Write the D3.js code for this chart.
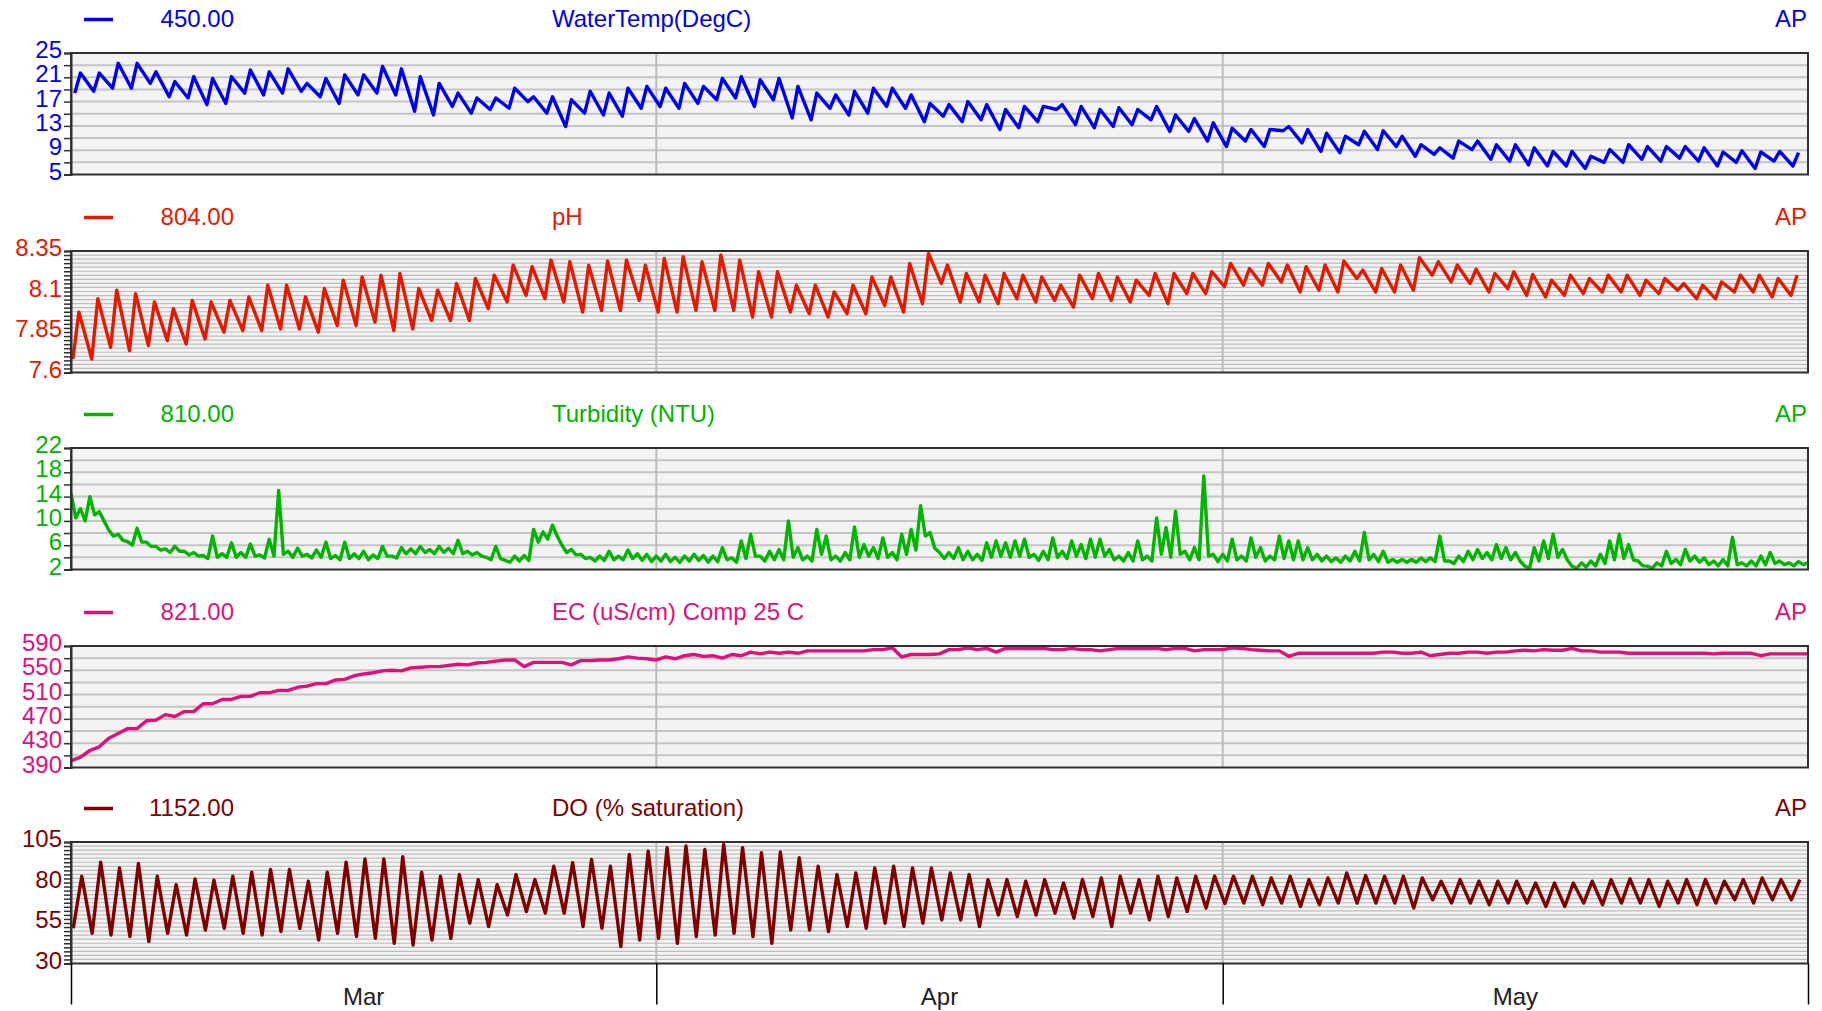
<!DOCTYPE html>
<html><head><meta charset="utf-8">
<script src="https://cdn.jsdelivr.net/npm/d3@7"></script>
<style>
html,body{margin:0;padding:0;background:#fff;}
svg{display:block;font-family:"Liberation Sans",Arial,sans-serif;}
</style></head><body>
<svg id="chart" width="1822" height="1011"></svg>
<script>
// ---------------- data ----------------
const startDate = Date.UTC(2023, 2, 1);
const endDate = Date.UTC(2023, 5, 1);
const monthLabels = ["Mar", "Apr", "May"];
const seriesIds = ["450.00", "804.00", "810.00", "821.00", "1152.00"];
const seriesTitles = ["WaterTemp(DegC)", "pH", "Turbidity (NTU)", "EC (uS/cm) Comp 25 C", "DO (% saturation)"];
const siteLabel = "AP";

// axis tick labels
const tempTicks = [5, 9, 13, 17, 21, 25];
const phTicks = [7.6, 7.85, 8.1, 8.35];
const turbTicks = [2, 6, 10, 14, 18, 22];
const ecTicks = [390, 430, 470, 510, 550, 590];
const doTicks = [30, 55, 80, 105];

// daily minimum / maximum water temperature (deg C), 1 Mar .. 31 May
const tempMin = [18.4,18.7,19.2,19.2,20.0,17.8,17.6,16.5,16.7,18.4,
  18.1,18.4,18.7,17.8,16.7,18.1,18.4,18.1,15.4,14.8,
  16.2,15.1,15.7,15.9,17.0,15.1,12.9,15.1,14.8,14.6,
  15.9,16.2,15.9,16.7,17.3,17.6,16.2,17.3,14.3,14.0,
  15.9,14.8,15.1,16.2,15.9,13.7,14.6,13.7,14.0,12.4,
  12.7,13.7,15.7,13.2,12.7,12.9,13.2,14.0,12.1,12.1,
  10.5,9.6,10.5,9.6,12.2,10.2,8.8,8.6,9.9,9.1,
  9.6,8.0,8.3,7.7,9.1,7.5,7.2,6.6,6.4,6.4,
  6.0,7.0,7.0,7.5,7.2,7.7,7.2,6.4,7.0,6.0,
  7.2,6.4];
const tempMax = [21.7,21.7,23.3,23.3,21.9,20.3,21.1,20.8,21.1,22.2,
  21.9,22.4,20.0,20.8,21.4,21.4,22.8,22.4,21.1,20.0,
  18.4,17.6,17.6,19.2,17.8,17.8,17.3,18.7,18.4,19.2,
  19.5,19.2,20.0,19.5,20.8,21.1,20.6,20.8,19.5,18.4,
  18.1,18.7,19.2,19.2,18.1,16.7,16.5,17.0,16.5,15.7,
  16.2,16.2,16.5,16.2,15.7,16.0,15.7,16.2,14.8,14.2,
  13.5,12.6,12.4,12.4,12.9,12.4,11.8,11.3,12.1,12.2,
  11.3,9.9,9.4,10.5,10.5,9.9,9.9,9.4,8.8,8.8,
  8.0,9.1,9.9,9.6,9.6,9.6,9.4,8.7,8.9,8.7,
  8.8,8.6];

// daily minimum / maximum pH
const phMin = [7.683,7.683,7.755,7.735,7.766,7.797,7.776,7.807,7.849,7.859,
  7.859,7.869,7.869,7.849,7.890,7.890,7.911,7.859,7.869,7.921,
  7.921,7.921,7.994,8.035,8.076,8.056,8.035,7.973,7.983,7.983,
  8.045,7.973,7.973,7.983,7.983,7.983,7.942,7.942,7.973,7.963,
  7.942,7.963,7.963,8.014,7.973,8.025,8.149,8.035,8.035,8.025,
  8.056,8.035,8.045,8.004,8.056,8.045,8.035,8.076,8.025,8.087,
  8.087,8.130,8.139,8.139,8.159,8.097,8.108,8.097,8.180,8.097,
  8.097,8.108,8.201,8.159,8.149,8.097,8.118,8.076,8.066,8.076,
  8.087,8.097,8.097,8.076,8.087,8.108,8.056,8.056,8.097,8.097,
  8.066,8.076];
const phMax = [7.973,8.056,8.108,8.087,8.035,7.994,8.045,8.035,8.045,8.066,
  8.139,8.139,8.066,8.118,8.170,8.190,8.201,8.211,8.118,8.108,
  8.149,8.180,8.201,8.263,8.253,8.294,8.284,8.263,8.288,8.294,
  8.263,8.304,8.315,8.284,8.325,8.294,8.222,8.222,8.139,8.139,
  8.097,8.139,8.190,8.190,8.273,8.335,8.263,8.211,8.201,8.211,
  8.201,8.190,8.139,8.201,8.211,8.190,8.170,8.211,8.211,8.211,
  8.222,8.273,8.242,8.273,8.263,8.253,8.263,8.288,8.232,8.242,
  8.263,8.309,8.284,8.263,8.238,8.211,8.222,8.205,8.170,8.201,
  8.180,8.201,8.201,8.170,8.180,8.149,8.139,8.159,8.201,8.201,
  8.180,8.201];

// turbidity (NTU), twice daily readings (upper level), 1 Mar 00:00 .. 1 Jun 00:00
const turbidity = [14.5,12.0,14.0,11.5,8.5,7.8,6.6,8.8,6.5,5.8,
  5.4,5.8,5.0,4.8,4.3,7.5,4.6,6.4,4.8,6.2,
  4.4,7.0,15.0,5.0,5.5,4.5,5.2,6.5,4.3,6.5,
  4.6,5.0,4.4,5.8,4.2,5.6,5.4,5.8,5.3,5.8,
  5.5,6.8,5.0,4.8,4.0,5.8,3.5,4.2,4.3,8.6,
  8.2,9.3,6.0,5.3,4.5,4.0,4.2,5.0,4.2,5.2,
  4.6,
  4.5,4.2,4.5,4.0,4.2,4.5,4.3,4.2,5.6,3.9,
  6.7,7.8,4.2,5.0,5.3,10.0,5.6,4.2,8.6,7.5,
  4.2,4.8,9.0,6.1,5.6,7.2,4.8,7.8,8.6,12.5,
  8.1,4.8,4.8,5.6,5.0,4.5,6.4,6.7,6.4,6.7,
  7.0,4.5,5.0,7.2,5.0,6.7,6.1,7.0,7.0,5.3,
  4.2,4.8,6.7,4.2,10.5,8.9,11.6,5.0,5.6,17.4,
  4.5,4.5,
  7.0,4.2,7.2,5.6,4.2,7.5,6.7,6.7,5.6,4.5,
  4.2,3.9,4.2,5.0,8.1,4.5,5.0,3.65,3.65,3.65,
  3.9,3.9,7.5,3.4,4.2,5.0,5.3,4.8,6.1,5.6,
  4.8,2.55,5.6,6.7,7.8,5.3,2.55,3.1,3.4,4.5,
  6.7,7.8,6.1,3.4,2.55,3.1,5.0,3.65,5.3,4.2,
  3.9,3.4,3.65,7.3,3.1,3.4,4.2,4.8,3.4,3.1,
  3.3,3.1];
// turbidity lower level of the noise band, six hours after each reading above
const turbidityLow = [10.5,10.0,11.0,10.0,7.5,
  6.8,6.0,6.5,5.8,5.2,
  4.8,5.0,4.4,4.2,3.8,4.0,4.0,4.0,4.0,4.2,3.9,
  4.2,4.5,4.0,4.2,3.9,4.0,3.8,3.6,3.8,3.8,
  3.6,3.8,4.2,3.9,4.6,4.6,4.8,4.6,4.8,4.6,
  4.6,4.4,4.2,3.6,3.8,3.2,3.4,3.5,6.5,7.0,
  7.5,4.8,4.4,3.8,3.4,3.5,3.6,3.6,3.8,3.5,
  3.3,3.4,3.3,3.2,3.4,3.5,3.2,3.3,3.6,3.2,
  3.8,4.2,3.4,3.6,3.6,4.0,3.6,3.4,4.5,3.6,
  3.4,3.6,4.0,4.2,3.8,4.0,3.6,4.5,5.2,7.5,
  5.5,3.8,3.8,3.6,3.6,3.5,4.0,4.2,4.0,4.2,
  4.0,3.5,3.6,4.0,3.8,4.2,3.8,4.0,4.2,3.6,
  3.4,3.4,3.6,3.4,4.5,4.0,4.5,3.6,3.6,4.2,
  3.3,3.4,3.6,3.4,4.0,3.4,3.6,3.8,3.6,3.6,
  3.6,3.4,3.3,3.2,3.4,3.4,3.6,3.3,3.2,3.2,
  3.2,3.2,3.3,3.3,3.4,3.0,3.3,3.6,3.8,3.6,
  3.8,3.6,3.4,2.2,3.4,3.8,4.0,3.6,2.2,2.4,
  2.6,3.0,3.6,3.8,3.6,2.6,2.2,2.6,3.0,2.8,
  3.4,3.2,2.8,2.6,2.6,2.8,2.6,2.6,2.8,3.0,
  2.8,2.6,2.8,2.8];

// EC (uS/cm), twice daily readings
const ec = [401,407,418,424,438,446,454,454,467,468,
  477,474,482,482,495,495,502,502,507,507,
  513,513,517,517,522,524,528,528,534,535,
  541,544,546,549,550,549,554,555,556,556,
  558,560,559,562,563,565,567,567,556,563,
  563,563,563,559,566,566,567,567,569,572,
  570,
  569,567,572,569,574,576,573,574,570,576,
  574,580,577,580,578,580,578,582,582,582,
  582,582,582,582,584,584,587,572,576,576,
  576,577,584,584,587,584,586,580,586,586,
  586,586,586,584,584,586,584,584,582,584,
  586,586,586,586,586,584,586,586,582,584,
  584,584,
  587,586,584,583,582,582,573,578,578,578,
  578,578,578,578,578,578,580,580,578,578,
  580,574,576,578,578,580,580,578,580,580,
  582,583,582,584,583,583,586,582,582,580,
  580,580,578,578,578,578,578,578,578,578,
  578,577,578,578,578,578,574,577,577,577,
  577,577];

// daily minimum / maximum DO (% saturation)
const doMin = [51.7,48.6,47.6,46.6,43.5,48.6,47.6,50.7,51.7,48.6,
  47.6,49.7,51.7,44.5,48.6,46.6,45.5,42.4,41.4,44.5,
  45.5,54.9,52.8,60.0,62.1,61.1,61.1,52.8,51.7,40.4,
  44.5,45.5,42.4,46.6,47.6,48.6,46.6,42.4,50.7,50.7,
  49.7,52.8,51.7,54.9,52.8,54.9,56.9,56.9,52.8,60.0,
  59.0,60.0,61.1,58.0,59.0,52.8,61.1,56.9,59.0,62.1,
  64.2,67.0,67.3,66.3,67.3,65.2,66.3,67.3,67.3,67.3,
  67.3,64.2,69.4,67.3,67.3,66.3,67.3,67.3,65.2,65.2,
  67.3,66.3,67.3,67.3,65.2,67.3,66.3,67.3,69.4,67.3,
  69.4,69.4];
const doMax = [83.9,92.6,89.0,91.7,83.9,78.7,82.2,81.4,83.9,86.4,
  88.0,88.0,80.8,86.4,92.6,94.6,94.6,95.9,86.4,83.9,
  84.9,81.8,78.7,84.9,81.8,90.1,92.2,94.2,90.1,97.3,
  99.4,101.5,102.5,100.4,103.5,101.5,98.4,98.8,95.3,90.1,
  84.9,85.9,89.0,90.1,89.0,89.0,85.9,84.9,81.8,81.8,
  80.8,81.8,79.7,81.8,82.8,83.9,81.8,83.9,82.8,83.9,
  83.9,83.9,83.9,82.8,83.9,81.8,82.8,85.9,84.3,83.9,
  83.9,82.8,80.8,81.8,80.8,80.8,80.8,79.7,79.7,79.7,
  80.8,81.8,82.2,81.8,80.8,81.8,81.8,80.8,81.8,82.8,
  81.8,81.8];

// ---------------- build ----------------
const DAY = 864e5;
const toDate = t => new Date(startDate + t * DAY);
function dailyPairs(mins, maxs, tMin, tMax) {
  const out = [];
  mins.forEach((m, i) => { out.push([toDate(i + tMin), m]); out.push([toDate(i + tMax), maxs[i]]); });
  return out;
}
const halfDaily = arr => arr.map((v, i) => [toDate(i * 0.5), v]);
function band(hi, lo) {
  const out = [];
  hi.forEach((v, i) => { out.push([toDate(i * 0.5), v]); out.push([toDate(i * 0.5 + 0.25), lo[i]]); });
  return out;
}

const panels = [
  {color: "#0000f0", domain: [5, 25], grid: d3.range(5, 25.001, 2), labels: tempTicks, dense: false,
   points: dailyPairs(tempMin, tempMax, 0.2, 0.5), fmt: v => String(v)},
  {color: "#e41a00", domain: [7.6, 8.35], grid: d3.range(0, 31).map(i => +(7.6 + i * 0.025).toFixed(3)), labels: phTicks, dense: true,
   points: dailyPairs(phMin, phMax, 0.1, 0.42), fmt: v => String(+v.toFixed(2))},
  {color: "#00b400", domain: [2, 22], grid: d3.range(2, 22.001, 2), labels: turbTicks, dense: false,
   points: band(turbidity, turbidityLow), fmt: v => String(v)},
  {color: "#e0107a", domain: [390, 590], grid: d3.range(390, 590.001, 20), labels: ecTicks, dense: false,
   points: halfDaily(ec), fmt: v => String(v)},
  {color: "#800000", domain: [30, 105], grid: d3.range(0, 31).map(i => +(30 + i * 2.5).toFixed(2)), labels: doTicks, dense: true,
   points: dailyPairs(doMin, doMax, 0.12, 0.57), fmt: v => String(v)}
];

const svg = d3.select("#chart");
const left = 71, right = 1808;
const tops = [53, 251, 448, 646, 842];
const ph = 121.5;

const x = d3.scaleUtc().domain([new Date(startDate), new Date(endDate)]).range([left, right]);
const monthStarts = d3.utcMonth.range(new Date(startDate), new Date(endDate + 1));
const innerMonths = monthStarts.filter(d => +d > startDate && +d < endDate);

const defs = svg.append("defs");

panels.forEach((p, i) => {
  const top = tops[i], bottom = top + ph;
  const y = d3.scaleLinear().domain(p.domain).range([bottom, top]);
  const g = svg.append("g");

  // header
  const hy = top - 33.5;
  g.append("line").attr("x1", 84).attr("x2", 113).attr("y1", hy).attr("y2", hy)
    .attr("stroke", p.color).attr("stroke-width", 3.5);
  const ty = top - 26;
  g.append("text").attr("x", 234).attr("y", ty).attr("text-anchor", "end")
    .attr("font-size", 24).attr("fill", p.color).text(seriesIds[i]);
  g.append("text").attr("x", 552).attr("y", ty)
    .attr("font-size", 24).attr("fill", p.color).text(seriesTitles[i]);
  g.append("text").attr("x", 1807).attr("y", ty).attr("text-anchor", "end")
    .attr("font-size", 24).attr("fill", p.color).text(siteLabel);

  // background
  g.append("rect").attr("x", left).attr("y", top).attr("width", right - left).attr("height", ph)
    .attr("fill", "#f3f3f3");

  // horizontal grid
  g.append("g").selectAll("line").data(p.grid.slice(1, -1)).join("line")
    .attr("x1", left).attr("x2", right)
    .attr("y1", d => y(d)).attr("y2", d => y(d))
    .attr("stroke", p.dense ? "#bdbdbd" : "#c4c4c4")
    .attr("stroke-width", p.dense ? 1.2 : 2);

  // vertical month grid
  g.append("g").selectAll("line").data(innerMonths).join("line")
    .attr("x1", d => x(d)).attr("x2", d => x(d)).attr("y1", top).attr("y2", bottom)
    .attr("stroke", "#bcbcbc").attr("stroke-width", 2);

  // data line
  const cid = "clip" + i;
  defs.append("clipPath").attr("id", cid).append("rect")
    .attr("x", left).attr("y", top).attr("width", right - left).attr("height", ph);
  const line = d3.line().x(d => x(d[0])).y(d => y(d[1]));
  g.append("path").datum(p.points).attr("clip-path", `url(#${cid})`)
    .attr("d", line).attr("fill", "none").attr("stroke", p.color)
    .attr("stroke-width", 3.4).attr("stroke-linejoin", "round");

  // frame
  g.append("rect").attr("x", left).attr("y", top).attr("width", right - left).attr("height", ph)
    .attr("fill", "none").attr("stroke", "#303030").attr("stroke-width", 2);

  // left axis
  const labelSet = new Set(p.labels.map(v => +v.toFixed(3)));
  const axis = d3.axisLeft(y).tickValues(p.grid).tickSize(7).tickPadding(2)
    .tickFormat(v => labelSet.has(+v.toFixed(3)) ? p.fmt(v) : "");
  const ag = g.append("g").attr("transform", `translate(${left},0)`).call(axis);
  ag.select(".domain").attr("stroke", "#303030").attr("stroke-width", 2);
  ag.selectAll(".tick line").attr("stroke", "#303030").attr("stroke-width", 1.5);
  ag.selectAll(".tick text").attr("fill", p.color).attr("font-size", 24)
    .attr("font-family", "'Liberation Sans', Arial, sans-serif").attr("dy", "0.32em").attr("y", -3);
});

// bottom time axis
const lastBottom = tops[4] + ph;
const xAxis = d3.axisBottom(x).tickValues(monthStarts).tickSize(41).tickFormat("");
const xg = svg.append("g").attr("transform", `translate(0,${lastBottom})`).call(xAxis);
xg.select(".domain").remove();
xg.selectAll(".tick line").attr("stroke", "#000").attr("stroke-width", 1.5);

const monthMids = monthStarts.slice(0, -1).map((d, i) => new Date((+d + +monthStarts[i + 1]) / 2));
svg.append("g").selectAll("text").data(monthMids).join("text")
  .attr("x", d => x(d)).attr("y", 1005).attr("text-anchor", "middle")
  .attr("font-size", 24).attr("fill", "#222").text((d, i) => monthLabels[i]);
</script>
</body></html>
